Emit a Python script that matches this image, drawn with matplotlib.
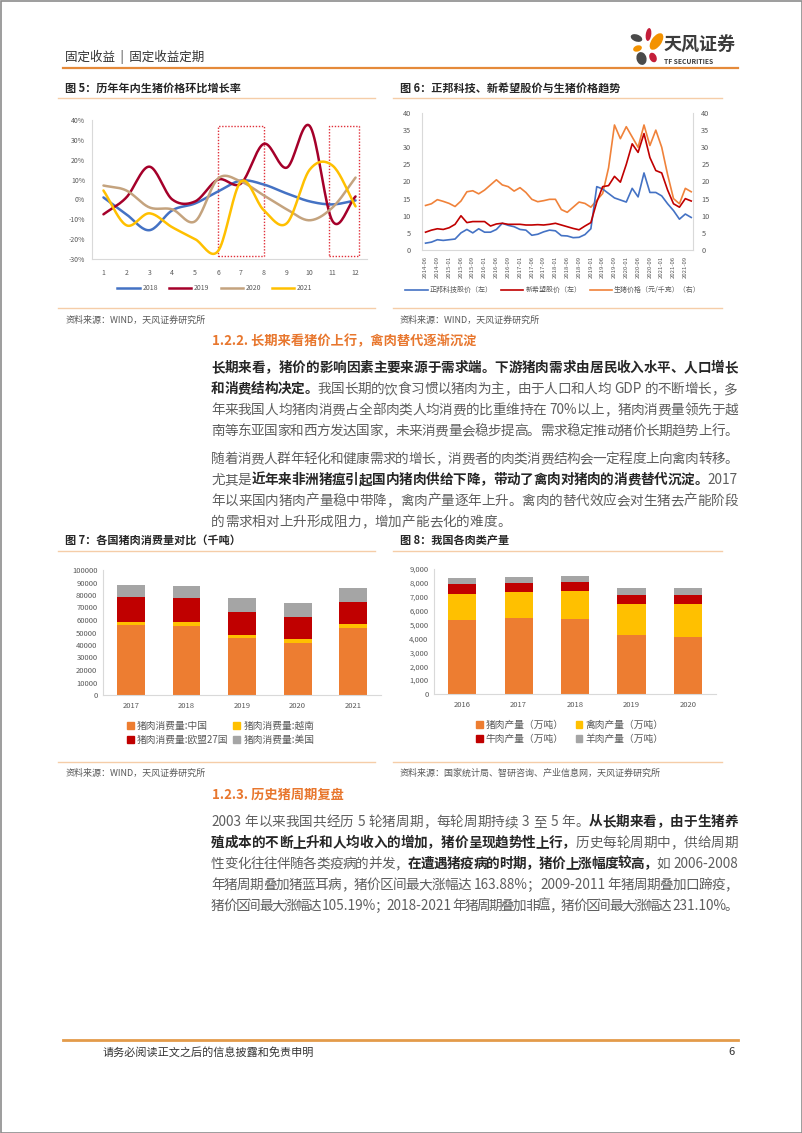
import numpy as np
import matplotlib
matplotlib.use('Agg')
import matplotlib.pyplot as plt
from matplotlib.patches import Rectangle, Ellipse, Patch
from matplotlib.lines import Line2D
from matplotlib.font_manager import FontProperties
from matplotlib.ticker import FuncFormatter

FAM = ['Noto Sans CJK SC', 'DejaVu Sans']
plt.rcParams['font.family'] = FAM
plt.rcParams['axes.unicode_minus'] = False

W, H = 802, 1133

# ---------------- data ----------------
# Fig 5: month-on-month growth of live hog price (%)
months = list(range(1, 13))
g2018 = [1, -7.5, -15.5, -5.5, -2, 4, 9.5, 7.5, 3, -1, -2.5, -0.5]
g2019 = [-7.5, 1, 16.5, 0, -1, 10, 8, 28, 16, 37, -11, 1.5]
g2020 = [7, 4.5, -4, -5, -11, 10.5, 9, 2, -5, -10.5, -4, 11]
g2021 = [4.5, -13, -7, -14, -20, -26, 9, -5.5, -12, 15, 17, -3.5]
highlight_spans = [(6, 8), (10.85, 12.15)]

# Fig 6: share prices (left) and hog price (right), bi-monthly samples
date_labels = ['2014-06', '2014-09', '2015-01', '2015-06', '2015-09', '2016-01',
               '2016-06', '2016-09', '2017-01', '2017-06', '2017-09', '2018-01',
               '2018-06', '2018-09', '2019-01', '2019-06', '2019-09', '2020-01',
               '2020-06', '2020-09', '2021-01', '2021-06', '2021-09']
zhengbang = [2.0, 2.3, 3.0, 2.8, 3.0, 3.2, 5.0, 6.0, 5.0, 6.2, 5.2, 5.2, 6.0, 7.8,
             7.2, 6.8, 6.0, 5.8, 4.3, 4.6, 5.3, 5.8, 5.6, 4.2, 4.1, 3.6, 3.7, 4.5,
             6.2, 18.5, 17.8, 16.5, 15.2, 14.6, 14.0, 18.0, 15.5, 22.5, 16.8, 16.8,
             15.8, 13.5, 11.5, 9.0, 10.5, 9.5]
xinxiwang = [5.2, 5.8, 6.2, 6.0, 6.5, 7.5, 10.0, 8.0, 8.3, 8.3, 8.3, 7.0, 7.6, 7.8,
             7.5, 7.5, 7.5, 7.3, 7.3, 7.4, 7.3, 7.5, 7.8, 7.3, 6.8, 6.3, 5.9, 7.0,
             8.0, 14.0, 18.5, 18.8, 21.5, 19.8, 25.0, 31.0, 28.5, 34.0, 27.0, 23.2,
             22.5, 17.5, 13.5, 12.5, 15.0, 14.3]
hog_price = [13.0, 13.5, 14.7, 14.2, 13.6, 12.7, 14.3, 17.0, 17.3, 16.4, 17.5, 19.0,
             20.5, 19.0, 18.5, 17.2, 18.2, 16.8, 14.8, 14.1, 14.4, 14.8, 14.8, 11.8,
             11.0, 12.5, 14.0, 13.6, 12.5, 14.5, 16.5, 24.0, 36.5, 32.5, 36.0, 33.0,
             30.0, 36.5, 30.5, 35.0, 30.0, 22.0, 15.0, 13.5, 18.0, 17.0]

# Fig 7: pork consumption by country (kt)
years7 = ['2017', '2018', '2019', '2020', '2021']
cons_china = [55800, 55300, 45500, 41800, 53500]
cons_vietnam = [2700, 2800, 2500, 2900, 3000]
cons_eu27 = [19700, 19700, 18100, 18000, 18200]
cons_usa = [9800, 9700, 11200, 10600, 10600]
labels7 = ['猪肉消费量:中国', '猪肉消费量:越南', '猪肉消费量:欧盟27国', '猪肉消费量:美国']

# Fig 8: meat production in China (10k t)
years8 = ['2016', '2017', '2018', '2019', '2020']
pork = [5299, 5452, 5404, 4255, 4113]
poultry = [1888, 1897, 1994, 2239, 2361]
beef = [717, 635, 644, 667, 672]
mutton = [460, 471, 475, 488, 492]
labels8 = ['猪肉产量（万吨）', '禽肉产量（万吨）', '牛肉产量（万吨）', '羊肉产量（万吨）']

# ---------------- styles ----------------
ORANGE = '#ED7D31'
YELLOW = '#FFC000'
RED = '#C00000'
GREY = '#A5A5A5'
TICK = '#595959'
SPINE = '#D9D9D9'
HEAD_OR = '#E8772E'
RULE = '#F5CDA8'

fig = plt.figure(figsize=(W / 100, H / 100), dpi=100)
page = fig.add_axes([0, 0, 1, 1])
page.set_xlim(0, W)
page.set_ylim(H, 0)
page.axis('off')
renderer = fig.canvas.get_renderer()


def T(x, y, s, size, color='#333333', bold=False, ha='left', va='center', **kw):
    return page.text(x, y, s, fontsize=size, color=color, ha=ha, va=va,
                     fontweight='bold' if bold else 'normal', family=FAM, **kw)


def text_width(s, size, bold):
    prop = FontProperties(family=FAM, size=size, weight='bold' if bold else 'normal')
    w, h, d = renderer.get_text_width_height_descent(s, prop, ismath=False)
    return w


def draw_line(segments, y, x0, x1, size, justify=True):
    units = []
    for text, bold in segments:
        run = ''
        for ch in text:
            if ord(ch) < 128 and ch != ' ':
                run += ch
            else:
                if run:
                    units.append((run, bold))
                    run = ''
                units.append((ch, bold))
        if run:
            units.append((run, bold))
    widths = []
    for u, b in units:
        if u == ' ':
            widths.append(size * 100 / 72 * 0.28)
        else:
            widths.append(text_width(u, size, b))
    total = sum(widths)
    extra = (x1 - x0 - total) / (len(units) - 1) if justify and len(units) > 1 else 0
    x = x0
    for (u, b), w in zip(units, widths):
        if u != ' ':
            T(x, y, u, size, color='#262626' if b else '#5E5E5E', bold=b)
        x += w + extra


# ---------------- page furniture ----------------
page.add_patch(Rectangle((0.5, 0.5), W - 1, H - 1, fill=False, ec='#8C8C8C', lw=1.2))
T(65, 57, '固定收益  |  固定收益定期', 9, '#333333')
page.plot([63, 738], [68, 68], color='#E58A3A', lw=1.6)

# logo
petals = [((648.5, 34.5), 5.5, 13, 8, '#C41E3A'),
          ((656.5, 41.5), 10, 19, 35, '#F39200'),
          ((636.5, 38), 12, 7, 20, '#4A4A4A'),
          ((637.5, 48.5), 9, 6, -20, '#F39200'),
          ((641.5, 58.5), 10, 13, -15, '#4A4A4A'),
          ((653, 57.5), 7, 10, -25, '#C41E3A')]
for c, w, h, a, col in petals:
    page.add_patch(Ellipse(c, w, h, angle=a, color=col, lw=0))
T(663, 45, '天风证券', 13, '#3C3C3C', bold=True)
T(664, 61, 'TF SECURITIES', 4.8, '#3C3C3C', bold=True)

# figure titles and rules
T(65, 88, '图 5：历年年内生猪价格环比增长率', 8, '#262626', bold=True)
T(400, 88, '图 6：正邦科技、新希望股价与生猪价格趋势', 8, '#262626', bold=True)
for xa, xb in [(58, 375), (393, 722)]:
    page.plot([xa, xb], [98, 98], color=RULE, lw=1)
    page.plot([xa, xb], [308, 308], color=RULE, lw=1)
    page.plot([xa, xb], [551, 551], color=RULE, lw=1)
    page.plot([xa, xb], [762, 762], color=RULE, lw=1)
T(66, 320, '资料来源：WIND，天风证券研究所', 6.5, '#595959')
T(400, 320, '资料来源：WIND，天风证券研究所', 6.5, '#595959')
T(65, 540, '图 7：各国猪肉消费量对比（千吨）', 8, '#262626', bold=True)
T(400, 540, '图 8：我国各肉类产量', 8, '#262626', bold=True)
T(66, 773, '资料来源：WIND，天风证券研究所', 6.5, '#595959')
T(400, 773, '资料来源：国家统计局、智研咨询、产业信息网，天风证券研究所', 6.5, '#595959')

T(212, 341, '1.2.2. 长期来看猪价上行，禽肉替代逐渐沉淀', 9.5, HEAD_OR, bold=True)
T(212, 795, '1.2.3. 历史猪周期复盘', 9.5, HEAD_OR, bold=True)

para1 = [
    [("长期来看，猪价的影响因素主要来源于需求端。下游猪肉需求由居民收入水平、人口增长", True)],
    [("和消费结构决定。", True), ("我国长期的饮食习惯以猪肉为主，由于人口和人均 GDP 的不断增长，多", False)],
    [("年来我国人均猪肉消费占全部肉类人均消费的比重维持在 70%以上，猪肉消费量领先于越", False)],
    [("南等东亚国家和西方发达国家，未来消费量会稳步提高。需求稳定推动猪价长期趋势上行。", False)],
]
para2 = [
    [("随着消费人群年轻化和健康需求的增长，消费者的肉类消费结构会一定程度上向禽肉转移。", False)],
    [("尤其是", False), ("近年来非洲猪瘟引起国内猪肉供给下降，带动了禽肉对猪肉的消费替代沉淀。", True), ("2017", False)],
    [("年以来国内猪肉产量稳中带降，禽肉产量逐年上升。禽肉的替代效应会对生猪去产能阶段", False)],
    [("的需求相对上升形成阻力，增加产能去化的难度。", False)],
]
para3 = [
    [("2003 年以来我国共经历 5 轮猪周期，每轮周期持续 3 至 5 年。", False), ("从长期来看，由于生猪养", True)],
    [("殖成本的不断上升和人均收入的增加，猪价呈现趋势性上行，", True), ("历史每轮周期中，供给周期", False)],
    [("性变化往往伴随各类疫病的并发，", False), ("在遭遇猪疫病的时期，猪价上涨幅度较高，", True), ("如 2006-2008", False)],
    [("年猪周期叠加猪蓝耳病，猪价区间最大涨幅达 163.88%；2009-2011 年猪周期叠加口蹄疫，", False)],
    [("猪价区间最大涨幅达 105.19%；2018-2021 年猪周期叠加非瘟，猪价区间最大涨幅达 231.10%。", False)],
]
BODY = 9.8
X0, X1 = 211, 738
LS = 21
for i, ln in enumerate(para1):
    draw_line(ln, 368 + LS * i, X0, X1, BODY)
for i, ln in enumerate(para2):
    draw_line(ln, 459 + LS * i, X0, X1, BODY, justify=(i < len(para2) - 1))
for i, ln in enumerate(para3):
    draw_line(ln, 822 + LS * i, X0, X1, BODY)

page.plot([63, 738], [1040, 1040], color='#E39B4A', lw=2)
T(103, 1052, '请务必阅读正文之后的信息披露和免责申明', 8, '#333333')
T(735, 1052, '6', 8, '#333333', ha='right')


def fx(px):
    return px / W


def fy(py):
    return 1 - py / H


def style_axis(ax, size=5.3):
    for s in ['top', 'right']:
        ax.spines[s].set_visible(False)
    for s in ['left', 'bottom']:
        ax.spines[s].set_color(SPINE)
        ax.spines[s].set_linewidth(0.8)
    ax.tick_params(length=0, labelsize=size, colors=TICK)
    ax.patch.set_alpha(0)


def smooth(xs, ys, n=20):
    p = np.column_stack([xs, ys]).astype(float)
    p = np.vstack([2 * p[0] - p[1], p, 2 * p[-1] - p[-2]])
    out = []
    t = np.linspace(0, 1, n, endpoint=False)[:, None]
    for i in range(1, len(p) - 2):
        p0, p1, p2, p3 = p[i - 1], p[i], p[i + 1], p[i + 2]
        seg = 0.5 * (2 * p1 + (-p0 + p2) * t + (2 * p0 - 5 * p1 + 4 * p2 - p3) * t ** 2
                     + (-p0 + 3 * p1 - 3 * p2 + p3) * t ** 3)
        out.append(seg)
    out.append(p[-2][None, :])
    out = np.vstack(out)
    return out[:, 0], out[:, 1]


# ---------------- Fig 5 ----------------
ax5 = fig.add_axes([fx(92), fy(259), (367 - 92) / W, (259 - 120) / H])
style_axis(ax5, 5)
series5 = [('2018', g2018, '#4472C4'), ('2019', g2019, '#A5002A'),
           ('2020', g2020, '#C4A37E'), ('2021', g2021, '#FFC000')]
for name, vals, col in series5:
    sx, sy = smooth(months, vals)
    ax5.plot(sx, sy, color=col, lw=1.8, label=name, solid_capstyle='round')
for a, b in highlight_spans:
    ax5.add_patch(Rectangle((a, -28.5), b - a, 65.5, fill=False, ec='#E0303A', lw=1.0,
                            ls=(0, (1, 1.2))))
ax5.set_xlim(0.5, 12.5)
ax5.set_ylim(-30, 40)
ax5.set_xticks(months)
ax5.set_yticks(range(-30, 41, 10))
ax5.yaxis.set_major_formatter(FuncFormatter(lambda v, p: f'{v:.0f}%'))
ax5.tick_params(axis='x', pad=7)
ax5.tick_params(axis='y', pad=5)
fig.legend(handles=[Line2D([], [], color=c, lw=1.8) for _, _, c in series5],
           labels=[n for n, _, _ in series5], loc='center', ncol=4,
           bbox_to_anchor=(fx(215), fy(288)), frameon=False, fontsize=5,
           handlelength=3.2, columnspacing=1.6, handletextpad=0.4, labelcolor=TICK)

# ---------------- Fig 6 ----------------
ax6 = fig.add_axes([fx(422), fy(250), (693 - 422) / W, (250 - 113) / H])
style_axis(ax6, 5.3)
idx = np.arange(len(hog_price))
ax6r = ax6.twinx()
ax6r.plot(idx, hog_price, color='#F0823A', lw=1.2)
ax6.plot(idx, zhengbang, color='#4472C4', lw=1.2, zorder=3)
ax6.plot(idx, xinxiwang, color='#C00000', lw=1.2, zorder=3)
ax6.set_zorder(ax6r.get_zorder() + 1)
for a in (ax6, ax6r):
    a.set_ylim(0, 40)
    a.set_yticks(range(0, 41, 5))
    a.set_xlim(-0.6, len(hog_price) - 0.7)
ax6r.spines['top'].set_visible(False)
ax6r.spines['left'].set_visible(False)
ax6r.spines['bottom'].set_visible(False)
ax6r.spines['right'].set_color(SPINE)
ax6r.spines['right'].set_linewidth(0.8)
ax6r.tick_params(length=0, labelsize=5.3, colors=TICK, pad=6)
ax6.tick_params(axis='y', pad=8)
ax6.set_xticks(idx[::2][:len(date_labels)])
ax6.set_xticklabels(date_labels, rotation=90, fontsize=4.3, color=TICK)
ax6.tick_params(axis='x', pad=4)
fig.legend(handles=[Line2D([], [], color='#4472C4', lw=1.2),
                    Line2D([], [], color='#C00000', lw=1.2),
                    Line2D([], [], color='#F0823A', lw=1.2)],
           labels=['正邦科技股价（左）', '新希望股价（左）', '生猪价格（元/千克）（右）'],
           loc='center', ncol=3, bbox_to_anchor=(fx(553), fy(290)), frameon=False,
           fontsize=5, handlelength=3.2, columnspacing=1.2, handletextpad=0.3,
           labelcolor=TICK)


# legend helper: row-wise order for a 2-column legend
def rowwise(items):
    return items[0::2] + items[1::2]


# ---------------- Fig 7 ----------------
ax7 = fig.add_axes([fx(103), fy(695), (381 - 103) / W, (695 - 570) / H])
style_axis(ax7, 5.5)
x7 = np.arange(len(years7))
bottom = np.zeros(len(years7))
cols = [ORANGE, YELLOW, RED, GREY]
for vals, col, lab in zip([cons_china, cons_vietnam, cons_eu27, cons_usa], cols, labels7):
    ax7.bar(x7, vals, 0.5, bottom=bottom, color=col, label=lab)
    bottom += np.array(vals)
ax7.set_xlim(-0.5, len(years7) - 0.5)
ax7.set_ylim(0, 100000)
ax7.set_yticks(range(0, 100001, 10000))
ax7.set_xticks(x7)
ax7.set_xticklabels(years7)
ax7.tick_params(axis='x', pad=5)
ax7.tick_params(axis='y', pad=4)
fig.legend(handles=rowwise([Patch(color=c) for c in cols]), labels=rowwise(labels7),
           loc='upper left', ncol=2, bbox_to_anchor=(fx(118), fy(712)), frameon=False,
           fontsize=7, handlelength=0.7, handleheight=0.7, handletextpad=0.35,
           columnspacing=0.5, labelspacing=0.45, labelcolor=TICK)

# ---------------- Fig 8 ----------------
ax8 = fig.add_axes([fx(434), fy(694), (716 - 434) / W, (694 - 569) / H])
style_axis(ax8, 5.5)
x8 = np.arange(len(years8))
bottom = np.zeros(len(years8))
for vals, col, lab in zip([pork, poultry, beef, mutton], cols, labels8):
    ax8.bar(x8, vals, 0.5, bottom=bottom, color=col, label=lab)
    bottom += np.array(vals)
ax8.set_xlim(-0.5, len(years8) - 0.5)
ax8.set_ylim(0, 9000)
ax8.set_yticks(range(0, 9001, 1000))
ax8.yaxis.set_major_formatter(FuncFormatter(lambda v, p: f'{v:,.0f}'))
ax8.set_xticks(x8)
ax8.set_xticklabels(years8)
ax8.tick_params(axis='x', pad=5)
ax8.tick_params(axis='y', pad=4)
fig.legend(handles=rowwise([Patch(color=c) for c in cols]), labels=rowwise(labels8),
           loc='upper left', ncol=2, bbox_to_anchor=(fx(467), fy(711)), frameon=False,
           fontsize=7, handlelength=0.7, handleheight=0.7, handletextpad=0.35,
           columnspacing=1.2, labelspacing=0.45, labelcolor=TICK)

fig.savefig('out.png', dpi=100)
